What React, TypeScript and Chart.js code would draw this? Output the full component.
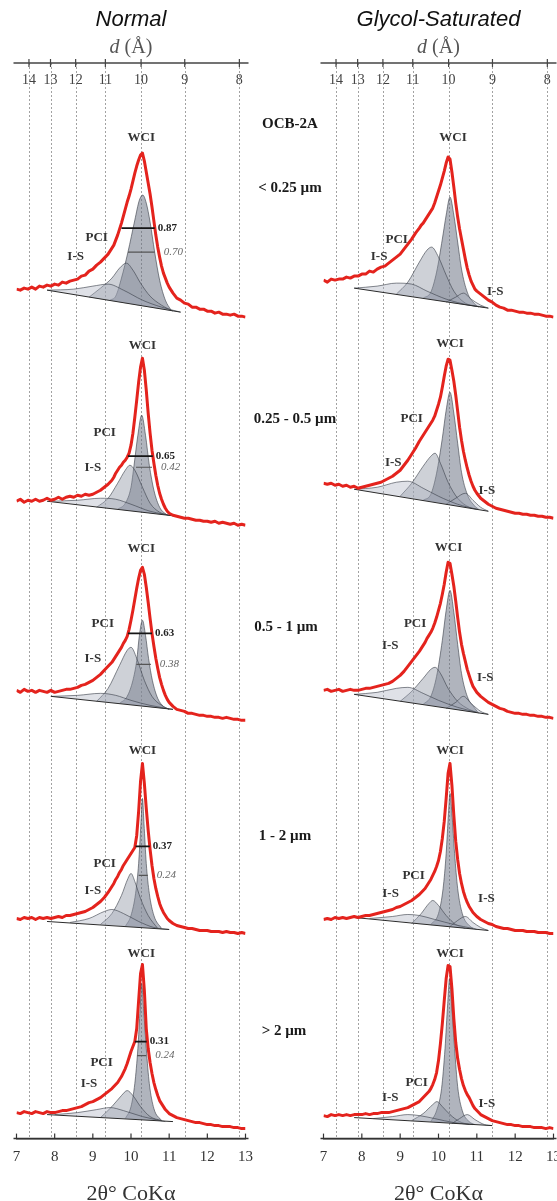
import React, { useEffect, useRef } from "react";
import { Chart, registerables } from "chart.js";

Chart.register(...registerables);

type Pt = [number, number];

// ---------------- data ----------------
const twoTheta = [
  7.0, 7.1, 7.2, 7.3, 7.4, 7.5, 7.6, 7.7, 7.8, 7.9, 8.0, 8.1, 8.2, 8.3, 8.4, 8.5, 8.6, 8.7, 8.8, 8.9, 9.0, 9.1, 9.2, 9.3, 9.4, 9.5,
  9.55, 9.6, 9.65, 9.7, 9.75, 9.8, 9.85, 9.9, 9.95, 10.0, 10.05, 10.1, 10.15, 10.2, 10.25, 10.3, 10.35, 10.4, 10.45, 10.5,
  10.55, 10.6, 10.65, 10.7, 10.75, 10.8, 10.85, 10.9, 10.95, 11.0,
  11.1, 11.2, 11.3, 11.4, 11.5, 11.6, 11.7, 11.8, 11.9, 12.0, 12.1, 12.2, 12.3, 12.4, 12.5, 12.6, 12.7, 12.8, 12.9, 13.0,
];
const twoThetaTicks = [7, 8, 9, 10, 11, 12, 13];
const dSpacingTicks = [14, 13, 12, 11, 10, 9, 8];
const CO_KALPHA = 1.78897;

// measured intensity (a.u.), Normal
const normalLt025 = [
  28, 27, 29, 28, 30, 28, 31, 30, 32, 31, 33, 32, 35, 34, 36, 37, 38, 41, 42, 46, 48, 52, 55, 59, 63, 69,
  72, 77, 82, 88, 94, 101, 108, 115, 121, 128, 136, 144, 151, 157, 162, 164, 156, 145, 134, 123, 110, 96, 82, 70, 60, 51, 44, 39, 34, 30,
  24, 19, 17, 14, 13, 10, 10, 8, 8, 6, 6, 4, 5, 3, 3, 2, 3, 1, 1, 0,
];
const normal025to05 = [
  24, 26, 23, 25, 24, 26, 24, 25, 27, 25, 26, 28, 26, 28, 29, 28, 30, 29, 31, 30, 31, 33, 35, 38, 41, 45,
  48, 52, 55, 58, 60, 63, 65, 68, 72, 80, 92, 108, 125, 143, 158, 167, 155, 135, 112, 92, 75, 62, 50, 40, 32, 26, 21, 17, 14, 12,
  10, 9, 8, 7, 7, 6, 5, 5, 4, 4, 3, 4, 2, 3, 2, 1, 2, 0, 1, 0,
];
const normal05to1 = [
  30, 28, 31, 29, 30, 28, 30, 29, 28, 30, 28, 29, 30, 31, 31, 32, 33, 35, 36, 38, 40, 43, 46, 50, 54, 58,
  61, 64, 67, 70, 73, 77, 80, 84, 91, 100, 110, 121, 132, 142, 150, 153, 146, 133, 118, 102, 87, 74, 62, 52, 43, 36, 30, 25, 21, 18,
  14, 11, 10, 9, 7, 7, 6, 5, 5, 4, 4, 3, 3, 2, 3, 2, 1, 1, 0, 0,
];
const normal1to2 = [
  15, 14, 16, 15, 16, 14, 16, 15, 16, 15, 16, 17, 16, 18, 18, 19, 20, 21, 22, 24, 26, 29, 32, 36, 41, 47,
  50, 54, 57, 61, 64, 68, 71, 74, 77, 80, 83, 86, 98, 122, 152, 170, 150, 125, 103, 84, 68, 55, 45, 37, 30, 25, 21, 18, 15, 13,
  10, 8, 7, 6, 5, 5, 4, 3, 3, 3, 2, 2, 2, 1, 2, 1, 1, 0, 1, 0,
];
const normalGt2 = [
  16, 15, 17, 16, 15, 17, 16, 15, 17, 16, 16, 17, 18, 18, 19, 20, 21, 22, 24, 26, 27, 29, 31, 34, 37, 40,
  42, 44, 46, 49, 52, 56, 60, 65, 71, 77, 82, 87, 100, 128, 155, 164, 138, 100, 80, 66, 55, 46, 39, 33, 28, 25, 22, 19, 17, 15,
  13, 11, 10, 9, 8, 7, 6, 6, 5, 4, 4, 3, 3, 2, 2, 2, 1, 1, 0, 0,
];

// measured intensity (a.u.), Glycol-saturated
const glycolLt025 = [
  37, 35, 38, 37, 38, 38, 40, 39, 41, 41, 43, 43, 46, 45, 48, 50, 51, 54, 57, 60, 63, 68, 73, 78, 84, 89,
  92, 94, 97, 100, 103, 106, 109, 114, 120, 126, 132, 139, 146, 154, 160, 158, 145, 130, 114, 100, 88, 78, 68, 58, 49, 42, 36, 32, 28, 26,
  23, 20, 17, 15, 12, 10, 9, 7, 7, 6, 5, 5, 4, 4, 3, 3, 2, 1, 1, 0,
];
const glycol025to05 = [
  35, 34, 35, 33, 34, 32, 33, 31, 32, 30, 31, 32, 33, 34, 35, 36, 38, 40, 42, 45, 48, 53, 58, 64, 70, 77,
  80, 83, 86, 89, 92, 95, 98, 102, 108, 114, 121, 131, 142, 152, 159, 158, 148, 137, 123, 107, 91, 78, 67, 58, 50, 43, 37, 32, 28, 25,
  20, 17, 14, 12, 10, 9, 8, 7, 6, 5, 5, 4, 4, 3, 3, 2, 2, 1, 1, 0,
];
const glycol05to1 = [
  28, 29, 27, 28, 29, 27, 28, 29, 28, 28, 29, 30, 30, 31, 32, 33, 34, 35, 37, 40, 43, 47, 52, 57, 62, 67,
  70, 73, 76, 80, 83, 86, 90, 95, 101, 108, 115, 124, 134, 146, 156, 155, 144, 132, 117, 101, 86, 74, 65, 57, 49, 43, 37, 32, 29, 26,
  22, 19, 16, 14, 12, 10, 9, 7, 6, 5, 5, 4, 4, 3, 3, 2, 2, 1, 1, 0,
];
const glycol1to2 = [
  14, 15, 14, 16, 15, 16, 15, 16, 17, 16, 17, 18, 18, 19, 20, 21, 22, 23, 24, 26, 27, 29, 31, 33, 36, 39,
  41, 43, 45, 48, 51, 54, 58, 62, 67, 73, 82, 95, 112, 135, 160, 170, 148, 118, 92, 74, 60, 50, 42, 36, 31, 27, 24, 21, 19, 17,
  14, 12, 10, 9, 7, 6, 5, 5, 4, 3, 3, 3, 2, 2, 2, 1, 1, 1, 0, 0,
];
const glycolGt2 = [
  13, 12, 14, 13, 14, 13, 14, 13, 14, 14, 14, 15, 14, 15, 15, 16, 16, 16, 17, 18, 19, 20, 21, 23, 25, 27,
  29, 31, 33, 35, 37, 40, 44, 49, 56, 68, 85, 105, 128, 150, 163, 162, 140, 110, 86, 70, 59, 50, 43, 38, 34, 31, 27, 23, 20, 18,
  14, 12, 10, 8, 7, 6, 5, 4, 4, 3, 3, 2, 2, 2, 1, 1, 1, 0, 1, 0,
];

// fitted components [2θ, intensity], Normal
const nLt025Base: Pt[] = [[7.8, 27], [11.3, 5]];
const nLt025WCI: Pt[] = [[9.45, 17], [9.6, 21], [9.75, 39], [9.92, 65], [10.1, 97], [10.22, 117], [10.31, 122], [10.4, 114], [10.5, 95], [10.62, 65], [10.75, 37], [10.9, 17], [11.05, 7]];
const nLt025PCI: Pt[] = [[8.9, 20], [9.2, 29], [9.5, 39], [9.7, 49], [9.88, 54], [10.05, 47], [10.25, 34], [10.5, 21], [10.8, 12], [11.1, 6]];
const nLt025IS: Pt[] = [[7.8, 27], [8.5, 28], [9.0, 31], [9.4, 33], [9.8, 27], [10.3, 17], [10.8, 10], [11.3, 5]];

const n025Base: Pt[] = [[7.8, 24], [11.2, 9]];
const n025WCI: Pt[] = [[9.65, 16], [9.85, 22], [10.0, 38], [10.08, 60], [10.18, 90], [10.28, 110], [10.38, 90], [10.48, 60], [10.6, 35], [10.75, 18], [10.95, 10]];
const n025PCI: Pt[] = [[9.1, 18], [9.4, 27], [9.65, 42], [9.85, 55], [9.97, 60], [10.1, 55], [10.3, 38], [10.5, 22], [10.75, 13], [11.0, 10]];
const n025IS: Pt[] = [[7.9, 24], [8.6, 25], [9.2, 27], [9.6, 26], [10.0, 21], [10.5, 14], [11.2, 9]];

const n05Base: Pt[] = [[7.9, 24], [11.1, 11]];
const n05WCI: Pt[] = [[9.7, 17], [9.9, 24], [10.05, 40], [10.15, 60], [10.22, 85], [10.3, 100], [10.38, 85], [10.46, 62], [10.56, 40], [10.7, 22], [10.85, 14], [11.0, 11]];
const n05PCI: Pt[] = [[9.1, 19], [9.4, 32], [9.7, 55], [9.9, 70], [10.0, 73], [10.15, 62], [10.35, 40], [10.55, 24], [10.8, 15], [11.0, 11]];
const n05IS: Pt[] = [[7.9, 24], [8.6, 25], [9.2, 27], [9.6, 25], [10.0, 20], [10.5, 15], [11.1, 11]];

const n1Base: Pt[] = [[7.8, 12], [11.0, 4]];
const n1WCI: Pt[] = [[9.85, 7], [10.0, 18], [10.12, 40], [10.2, 70], [10.26, 110], [10.3, 135], [10.34, 110], [10.4, 70], [10.48, 40], [10.6, 18], [10.8, 5]];
const n1PCI: Pt[] = [[9.2, 9], [9.5, 20], [9.75, 38], [9.92, 55], [10.0, 60], [10.1, 52], [10.25, 35], [10.45, 18], [10.7, 5]];
const n1IS: Pt[] = [[8.4, 11], [8.9, 15], [9.3, 22], [9.5, 24], [9.8, 20], [10.2, 12], [10.6, 6], [11.0, 4]];

const n2Base: Pt[] = [[7.8, 14], [11.1, 7]];
const n2WCI: Pt[] = [[9.85, 10], [10.0, 22], [10.1, 45], [10.18, 80], [10.24, 120], [10.28, 145], [10.33, 120], [10.4, 80], [10.48, 45], [10.6, 20], [10.8, 8]];
const n2PCI: Pt[] = [[9.2, 11], [9.5, 22], [9.75, 33], [9.9, 38], [10.05, 33], [10.25, 22], [10.5, 12], [10.8, 8]];
const n2IS: Pt[] = [[8.0, 14], [8.6, 16], [9.1, 19], [9.45, 21], [9.8, 18], [10.3, 12], [10.9, 7]];

// fitted components [2θ, intensity], Glycol-saturated
const gLt025Base: Pt[] = [[7.8, 29], [11.3, 9]];
const gLt025WCI: Pt[] = [[9.6, 19], [9.8, 25], [9.95, 45], [10.1, 78], [10.2, 102], [10.3, 120], [10.4, 102], [10.5, 75], [10.6, 48], [10.75, 25], [10.95, 13], [11.05, 10]];
const gLt025PCI: Pt[] = [[8.9, 23], [9.2, 35], [9.5, 55], [9.7, 67], [9.82, 70], [10.0, 60], [10.2, 42], [10.4, 26], [10.7, 14], [11.0, 11]];
const gLt025IS: Pt[] = [[7.8, 29], [8.4, 31], [8.9, 34], [9.3, 33], [9.7, 26], [10.2, 18], [10.8, 12], [11.2, 10]];
const gLt025IS2: Pt[] = [[10.2, 15], [10.45, 20], [10.65, 24], [10.85, 18], [11.1, 12], [11.3, 9]];

const g025Base: Pt[] = [[7.8, 29], [11.3, 7]];
const g025WCI: Pt[] = [[9.6, 18], [9.8, 24], [9.95, 45], [10.1, 80], [10.2, 108], [10.3, 126], [10.4, 105], [10.5, 75], [10.6, 46], [10.75, 24], [10.95, 12], [11.05, 9]];
const g025PCI: Pt[] = [[9.0, 22], [9.3, 35], [9.6, 52], [9.8, 62], [9.91, 65], [10.05, 55], [10.25, 36], [10.5, 20], [10.8, 11], [11.0, 9]];
const g025IS: Pt[] = [[7.8, 29], [8.4, 31], [8.9, 36], [9.2, 37], [9.6, 30], [10.0, 22], [10.5, 14], [11.0, 9]];
const g025IS2: Pt[] = [[10.2, 14], [10.45, 20], [10.7, 25], [10.9, 18], [11.1, 11], [11.3, 7]];

const g05Base: Pt[] = [[7.8, 24], [11.3, 4]];
const g05WCI: Pt[] = [[9.6, 14], [9.8, 22], [9.95, 42], [10.1, 78], [10.2, 108], [10.3, 128], [10.4, 106], [10.5, 74], [10.6, 45], [10.75, 22], [10.95, 10], [11.05, 5]];
const g05PCI: Pt[] = [[9.0, 17], [9.3, 27], [9.6, 40], [9.8, 49], [9.91, 51], [10.05, 45], [10.25, 30], [10.5, 17], [10.8, 9], [11.0, 6]];
const g05IS: Pt[] = [[7.8, 24], [8.4, 26], [8.9, 30], [9.2, 31], [9.6, 25], [10.0, 18], [10.5, 11], [11.0, 6]];
const g05IS2: Pt[] = [[10.2, 10], [10.45, 16], [10.65, 22], [10.85, 15], [11.1, 7], [11.3, 4]];

const g1Base: Pt[] = [[7.8, 16], [11.3, 3]];
const g1WCI: Pt[] = [[9.8, 9], [10.0, 20], [10.12, 45], [10.2, 80], [10.26, 120], [10.3, 140], [10.35, 120], [10.42, 80], [10.5, 45], [10.62, 20], [10.8, 8], [11.0, 4]];
const g1PCI: Pt[] = [[9.3, 10], [9.55, 20], [9.75, 30], [9.85, 33], [10.0, 28], [10.2, 18], [10.45, 9], [10.7, 5]];
const g1IS: Pt[] = [[8.2, 15], [8.8, 17], [9.2, 19], [9.5, 18], [9.9, 14], [10.4, 9], [10.9, 5]];
const g1IS2: Pt[] = [[10.3, 7], [10.5, 13], [10.7, 17], [10.9, 11], [11.1, 6], [11.3, 3]];

const g2Base: Pt[] = [[7.8, 11], [11.4, 3]];
const g2WCI: Pt[] = [[9.8, 7], [9.95, 18], [10.08, 40], [10.17, 80], [10.24, 125], [10.29, 150], [10.34, 125], [10.42, 80], [10.5, 42], [10.62, 18], [10.8, 7], [10.95, 4]];
const g2PCI: Pt[] = [[9.3, 8], [9.6, 15], [9.85, 24], [9.96, 27], [10.1, 22], [10.3, 14], [10.55, 7], [10.8, 4]];
const g2IS: Pt[] = [[8.3, 10], [8.8, 12], [9.2, 14], [9.5, 13], [9.9, 10], [10.4, 6], [10.9, 4]];
const g2IS2: Pt[] = [[10.35, 5], [10.55, 10], [10.75, 14], [10.95, 9], [11.2, 4], [11.4, 3]];

// FWHM (°2θ) of the illite peak: full envelope and WCI component
const fwhmTotal = [0.87, 0.65, 0.63, 0.37, 0.31];
const fwhmWCI = [0.70, 0.42, 0.38, 0.24, 0.24];
const fwhmTotalLevel = [89, 69, 87, 87, 87];
const fwhmTotalStart = [9.75, 9.92, 9.92, 10.12, 10.1];
const fwhmWCILevel = [65, 58, 56, 58, 73];
const fwhmWCIStart = [9.92, 10.13, 10.14, 10.2, 10.16];

const columnTitles = ["Normal", "Glycol-Saturated"];
const sampleLabels = ["OCB-2A", "< 0.25 µm", "0.25 - 0.5 µm", "0.5 - 1 µm", "1 - 2 µm", "> 2 µm"];

// peak label anchors [2θ, intensity]
const normalLabelAt: Record<string, Pt>[] = [
  { WCI: [10.27, 179], PCI: [9.1, 79], "I-S": [8.55, 60] },
  { WCI: [10.3, 180], PCI: [9.31, 93], "I-S": [9.0, 58] },
  { WCI: [10.27, 172], PCI: [9.26, 97], "I-S": [9.0, 62] },
  { WCI: [10.3, 183], PCI: [9.31, 70], "I-S": [9.0, 43] },
  { WCI: [10.27, 175], PCI: [9.23, 66], "I-S": [8.9, 45] },
];
const glycolLabelAt: Record<string, Pt>[] = [
  { WCI: [10.38, 179], PCI: [8.91, 77], "I-S": [8.45, 60], "I-S ": [11.48, 25] },
  { WCI: [10.3, 175], PCI: [9.3, 100], "I-S": [8.82, 56], "I-S ": [11.26, 28] },
  { WCI: [10.26, 171], PCI: [9.39, 95], "I-S": [8.74, 73], "I-S ": [11.22, 41] },
  { WCI: [10.3, 183], PCI: [9.35, 58], "I-S": [8.75, 40], "I-S ": [11.25, 35] },
  { WCI: [10.3, 175], PCI: [9.43, 46], "I-S": [8.74, 31], "I-S ": [11.26, 25] },
];

// ---------------- layout ----------------
const AXIS_TOP = 63;
const CANVAS_H = 1207;
const Y_MAX = 1075;
const normalOffsets = [821, 613, 418, 205, 10];
const glycolOffsets = [821, 620, 420, 205, 10];
const sampleLabelPos: Pt[] = [[290, 123], [290, 187], [295, 418], [286, 626], [285, 835], [284, 1030]];
const SERIF = '"Liberation Serif", "Times New Roman", serif';
const SANS = '"Liberation Sans", Arial, sans-serif';

interface Comp { kind: "WCI" | "PCI" | "IS"; pts: Pt[] }
interface PanelSpec {
  red: number[];
  base: Pt[];
  comps: Comp[];
  labels: Record<string, Pt>;
  bars: { fwhm: number; level: number; start: number; strong: boolean }[];
}

const normalPanels: PanelSpec[] = [
  { red: normalLt025, base: nLt025Base, comps: [{ kind: "IS", pts: nLt025IS }, { kind: "PCI", pts: nLt025PCI }, { kind: "WCI", pts: nLt025WCI }] },
  { red: normal025to05, base: n025Base, comps: [{ kind: "IS", pts: n025IS }, { kind: "PCI", pts: n025PCI }, { kind: "WCI", pts: n025WCI }] },
  { red: normal05to1, base: n05Base, comps: [{ kind: "IS", pts: n05IS }, { kind: "PCI", pts: n05PCI }, { kind: "WCI", pts: n05WCI }] },
  { red: normal1to2, base: n1Base, comps: [{ kind: "IS", pts: n1IS }, { kind: "PCI", pts: n1PCI }, { kind: "WCI", pts: n1WCI }] },
  { red: normalGt2, base: n2Base, comps: [{ kind: "IS", pts: n2IS }, { kind: "PCI", pts: n2PCI }, { kind: "WCI", pts: n2WCI }] },
].map((p, i) => ({
  ...p,
  labels: normalLabelAt[i],
  bars: [
    { fwhm: fwhmTotal[i], level: fwhmTotalLevel[i], start: fwhmTotalStart[i], strong: true },
    { fwhm: fwhmWCI[i], level: fwhmWCILevel[i], start: fwhmWCIStart[i], strong: false },
  ],
}));

const glycolPanels: PanelSpec[] = [
  { red: glycolLt025, base: gLt025Base, comps: [{ kind: "IS", pts: gLt025IS }, { kind: "IS", pts: gLt025IS2 }, { kind: "PCI", pts: gLt025PCI }, { kind: "WCI", pts: gLt025WCI }] },
  { red: glycol025to05, base: g025Base, comps: [{ kind: "IS", pts: g025IS }, { kind: "IS", pts: g025IS2 }, { kind: "PCI", pts: g025PCI }, { kind: "WCI", pts: g025WCI }] },
  { red: glycol05to1, base: g05Base, comps: [{ kind: "IS", pts: g05IS }, { kind: "IS", pts: g05IS2 }, { kind: "PCI", pts: g05PCI }, { kind: "WCI", pts: g05WCI }] },
  { red: glycol1to2, base: g1Base, comps: [{ kind: "IS", pts: g1IS }, { kind: "IS", pts: g1IS2 }, { kind: "PCI", pts: g1PCI }, { kind: "WCI", pts: g1WCI }] },
  { red: glycolGt2, base: g2Base, comps: [{ kind: "IS", pts: g2IS }, { kind: "IS", pts: g2IS2 }, { kind: "PCI", pts: g2PCI }, { kind: "WCI", pts: g2WCI }] },
].map((p, i) => ({ ...p, labels: glycolLabelAt[i], bars: [] }));

const compFill: Record<string, string> = {
  WCI: "rgba(104,112,128,0.52)",
  PCI: "rgba(138,146,160,0.42)",
  IS: "rgba(165,173,188,0.36)",
};

const bragg = (d: number) => (2 * Math.asin(CO_KALPHA / (2 * d)) * 180) / Math.PI;

function buildDatasets(panels: PanelSpec[], offsets: number[]) {
  const ds: any[] = [];
  panels.forEach((p, i) => {
    const off = offsets[i];
    p.comps.forEach((c) => {
      ds.push({
        data: c.pts.map(([x, y]) => ({ x, y: y + off })),
        borderColor: "rgba(55,60,70,0.75)",
        borderWidth: 0.8,
        backgroundColor: compFill[c.kind],
        fill: "shape",
        pointRadius: 0,
        cubicInterpolationMode: "monotone",
        order: 4,
      });
    });
    ds.push({
      data: p.base.map(([x, y]) => ({ x, y: y + off })),
      borderColor: "#2b2b2b",
      borderWidth: 1,
      pointRadius: 0,
      fill: false,
      order: 3,
    });
    ds.push({
      data: twoTheta.map((x, k) => ({ x, y: p.red[k] + off })),
      borderColor: "#e4231d",
      borderWidth: 3,
      pointRadius: 0,
      fill: false,
      tension: 0,
      borderJoinStyle: "round",
      order: 1,
    });
    p.bars.forEach((b) => {
      ds.push({
        data: [
          { x: b.start, y: b.level + off },
          { x: b.start + b.fwhm, y: b.level + off },
        ],
        borderColor: b.strong ? "#151515" : "#555",
        borderWidth: b.strong ? 1.7 : 1.2,
        pointRadius: 0,
        fill: false,
        order: 0,
      });
    });
  });
  return ds;
}

function decorPlugin(title: string, panels: PanelSpec[], offsets: number[]) {
  return {
    id: "decor",
    beforeDatasetsDraw(chart: any) {
      const { ctx, chartArea: a, scales } = chart;
      const x = scales.x;
      ctx.save();
      ctx.strokeStyle = "#a2a2a2";
      ctx.lineWidth = 1;
      ctx.setLineDash([2, 2]);
      for (const d of dSpacingTicks) {
        const px = Math.round(x.getPixelForValue(bragg(d))) + 0.5;
        ctx.beginPath();
        ctx.moveTo(px, a.top);
        ctx.lineTo(px, a.bottom);
        ctx.stroke();
      }
      ctx.restore();
    },
    afterDraw(chart: any) {
      const { ctx, chartArea: a, scales } = chart;
      const x = scales.x;
      const y = scales.y;
      ctx.save();
      // bottom axis: extend line slightly and draw inward ticks
      ctx.strokeStyle = "#333";
      ctx.lineWidth = 1.5;
      ctx.beginPath();
      ctx.moveTo(a.left - 3, a.bottom);
      ctx.lineTo(a.right + 3, a.bottom);
      ctx.stroke();
      ctx.lineWidth = 1.2;
      for (const t of twoThetaTicks) {
        const px = x.getPixelForValue(t);
        ctx.beginPath();
        ctx.moveTo(px, a.bottom);
        ctx.lineTo(px, a.bottom - 5);
        ctx.stroke();
      }
      // top d-spacing axis
      ctx.strokeStyle = "#444";
      ctx.lineWidth = 1.5;
      ctx.beginPath();
      ctx.moveTo(a.left - 3, a.top);
      ctx.lineTo(a.right + 3, a.top);
      ctx.stroke();
      ctx.lineWidth = 1.2;
      ctx.font = `14px ${SERIF}`;
      ctx.fillStyle = "#444";
      ctx.textAlign = "center";
      ctx.textBaseline = "middle";
      for (const d of dSpacingTicks) {
        const px = x.getPixelForValue(bragg(d));
        ctx.beginPath();
        ctx.moveTo(px, a.top - 4);
        ctx.lineTo(px, a.top + 4);
        ctx.stroke();
        ctx.fillText(String(d), px, a.top + 17);
      }
      const cx = (a.left + a.right) / 2;
      ctx.font = `italic 20px ${SERIF}`;
      const w1 = ctx.measureText("d").width;
      ctx.font = `20px ${SERIF}`;
      const w2 = ctx.measureText(" (Å)").width;
      ctx.textAlign = "left";
      ctx.fillStyle = "#555";
      ctx.font = `italic 20px ${SERIF}`;
      ctx.fillText("d", cx - (w1 + w2) / 2, 48);
      ctx.font = `20px ${SERIF}`;
      ctx.fillText(" (Å)", cx - (w1 + w2) / 2 + w1, 48);
      ctx.textAlign = "center";
      ctx.fillStyle = "#111";
      ctx.font = `italic 22px ${SANS}`;
      ctx.fillText(title, cx, 20);

      // annotations
      panels.forEach((p, i) => {
        const off = offsets[i];
        ctx.font = `bold 13px ${SERIF}`;
        ctx.fillStyle = "#333";
        ctx.textAlign = "center";
        Object.keys(p.labels).forEach((k) => {
          const [lx, ly] = p.labels[k];
          ctx.fillText(k.trim(), x.getPixelForValue(lx), y.getPixelForValue(off + ly));
        });
        p.bars.forEach((b) => {
          ctx.font = b.strong ? `bold 11px ${SERIF}` : `italic 11px ${SERIF}`;
          ctx.fillStyle = b.strong ? "#222" : "#666";
          ctx.textAlign = "left";
          ctx.fillText(
            b.fwhm.toFixed(2),
            x.getPixelForValue(b.start + b.fwhm) + (b.strong ? 3 : 9),
            y.getPixelForValue(off + b.level)
          );
        });
      });
      ctx.restore();
    },
  };
}

function makeConfig(title: string, panels: PanelSpec[], offsets: number[], padL: number, padR: number): any {
  return {
    type: "line",
    data: { datasets: buildDatasets(panels, offsets) },
    options: {
      animation: false,
      responsive: false,
      devicePixelRatio: 1,
      events: [],
      layout: { padding: { left: padL, right: padR, top: AXIS_TOP, bottom: 0 } },
      plugins: { legend: { display: false }, tooltip: { enabled: false }, title: { display: false } },
      scales: {
        x: {
          type: "linear",
          min: 7,
          max: 13,
          position: "bottom",
          afterBuildTicks: (s: any) => {
            s.ticks = twoThetaTicks.map((v) => ({ value: v }));
          },
          ticks: { font: { family: SERIF, size: 15 }, color: "#333", padding: 9, maxRotation: 0, autoSkip: false },
          grid: { drawOnChartArea: false, drawTicks: false },
          border: { display: true, color: "#333", width: 1.5 },
          title: {
            display: true,
            text: "2θ° CoKα",
            font: { family: SERIF, size: 22 },
            color: "#333",
            padding: { top: 6, bottom: 0 },
          },
        },
        y: { type: "linear", min: 0, max: Y_MAX, display: false },
      },
    },
    plugins: [decorPlugin(title, panels, offsets)],
  };
}

function ColumnChart(props: {
  title: string;
  panels: PanelSpec[];
  offsets: number[];
  left: number;
  width: number;
  padL: number;
  padR: number;
}) {
  const ref = useRef<HTMLCanvasElement | null>(null);
  useEffect(() => {
    if (!ref.current) return;
    const chart = new Chart(ref.current, makeConfig(props.title, props.panels, props.offsets, props.padL, props.padR));
    return () => chart.destroy();
  }, []);
  return (
    <canvas
      ref={ref}
      width={props.width}
      height={CANVAS_H}
      style={{ position: "absolute", left: props.left, top: 0, width: props.width, height: CANVAS_H }}
    />
  );
}

export default function App() {
  return (
    <div
      style={{
        position: "absolute",
        left: 0,
        top: 0,
        width: 557,
        height: 1201,
        overflow: "hidden",
        background: "#fff",
      }}
    >
      <ColumnChart title={columnTitles[0]} panels={normalPanels} offsets={normalOffsets} left={0} width={262} padL={16.5} padR={16} />
      <ColumnChart title={columnTitles[1]} panels={glycolPanels} offsets={glycolOffsets} left={300} width={280} padL={23.5} padR={26.5} />
      {sampleLabels.map((t, i) => (
        <div
          key={t}
          style={{
            position: "absolute",
            left: sampleLabelPos[i][0],
            top: sampleLabelPos[i][1],
            transform: "translate(-50%, -50%)",
            font: `bold 15px ${SERIF}`,
            color: "#1a1a1a",
            whiteSpace: "nowrap",
            zIndex: 2,
          }}
        >
          {t}
        </div>
      ))}
    </div>
  );
}
